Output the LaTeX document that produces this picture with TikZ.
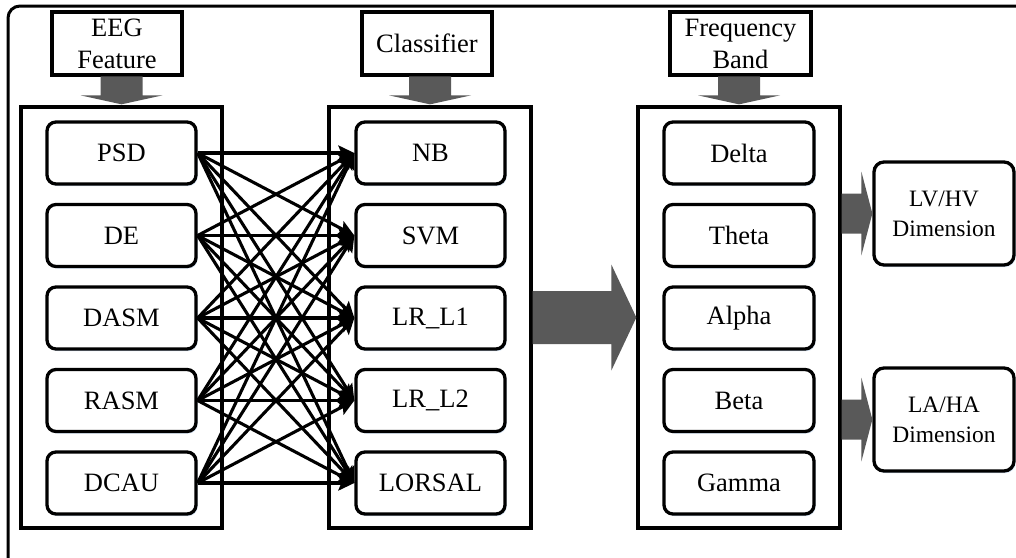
\documentclass[tikz,border=0pt]{standalone}
\usepackage{fontspec}
\setmainfont{Liberation Serif}
\usetikzlibrary{calc,arrows.meta,shadows}

\definecolor{arrowgray}{RGB}{89,89,89}
\definecolor{glow}{RGB}{210,225,242}

% wide grey arrow pointing down onto the top of a container
\newcommand\blockdown[1]{%
  \fill[arrowgray] ($(#1.north)+(-21,-29)$) -- ($(#1.north)+(21,-29)$)
    -- ($(#1.north)+(21,-10)$) -- ($(#1.north)+(41,-10)$)
    -- ($(#1.north)+(0,-1)$) -- ($(#1.north)+(-41,-10)$)
    -- ($(#1.north)+(-21,-10)$) -- cycle;}
% wide grey arrow from node #1 to node #2: shaft half width, head half width, head length
\newcommand\blockright[5]{%
  \fill[arrowgray] ($(#1.east |- #2.west)+(0,-#3)$) -- ($(#2.west)+(-#5,-#3)$)
    -- ($(#2.west)+(-#5,-#4)$) -- (#2.west) -- ($(#2.west)+(-#5,#4)$)
    -- ($(#2.west)+(-#5,#3)$) -- ($(#1.east |- #2.west)+(0,#3)$) -- cycle;}

\begin{document}
\begin{tikzpicture}[x=1pt,y=-1pt,
  txt/.style={font=\fontsize{26.5}{32}\selectfont},
  glowing/.style={drop shadow={shadow xshift=1.5pt,shadow yshift=-2pt,fill=glow,opacity=1}},
  header/.style={draw,line width=3.3pt,fill=white,txt,align=center,
    minimum height=63pt,inner sep=0pt,glowing},
  container/.style={draw,line width=3.3pt,minimum width=201pt,minimum height=421pt,
    inner sep=0pt,glowing,fill=white},
  item/.style={draw,line width=3.3pt,rounded corners=9pt,fill=white,txt,
    minimum width=149pt,minimum height=62pt,inner sep=0pt,glowing},
  result/.style={draw,line width=3.3pt,rounded corners=10pt,fill=white,align=center,
    font=\fontsize{23.5}{30}\selectfont,minimum width=140pt,minimum height=103pt,
    inner sep=0pt,glowing},
  link/.style={line width=3.1pt,-{Stealth[length=16pt,width=15pt,inset=3pt]}}]

\useasboundingbox (0,0) rectangle (1016,557);
\begin{scope}
  \clip (0,0) rectangle (1016,557);
  \draw[line width=3pt,rounded corners=12pt] (8,6) rectangle (1040,590);
\end{scope}

% column headers
\node[header,minimum width=130pt] (hfeat) at (117,43.5) {EEG\\Feature};
\node[header,minimum width=130pt] (hclass) at (427,43.5) {Classifier};
\node[header,minimum width=141pt] (hband) at (740.5,43.5) {Frequency\\Band};

% containers
\node[container] (kfeat) at (121.5,317.5) {};
\node[container,minimum width=202pt] (kclass) at (430,317.5) {};
\node[container,minimum width=202pt] (kband) at (739,317.5) {};

\blockdown{kfeat}
\blockdown{kclass}
\blockdown{kband}

% features, classifiers and frequency bands
\foreach \name [count=\i] in {PSD,DE,DASM,RASM,DCAU}
  \node[item] (f\i) at (121.5,{153+82.5*(\i-1)}) {\name};
\foreach \name [count=\i] in {NB,SVM,LR\_L1,LR\_L2,LORSAL}
  \node[item] (c\i) at (430.5,{153+82.5*(\i-1)}) {\name};
\foreach \name [count=\i] in {Delta,Theta,Alpha,Beta,Gamma}
  \node[item,minimum width=150pt] (b\i) at (739,{153+82.5*(\i-1)}) {\name};

% every feature paired with every classifier
\foreach \i in {1,...,5}
  \foreach \j in {1,...,5}
    \draw[link] (f\i.east) -- (c\j.west);

% emotion dimensions
\node[result] (lv) at (944,213.5) {LV/HV\\Dimension};
\node[result] (la) at (944,419.5) {LA/HA\\Dimension};

\blockright{kclass}{kband}{26.5}{53}{25}
\blockright{kband}{lv}{20}{42}{11}
\blockright{kband}{la}{20}{42}{11}

\end{tikzpicture}
\end{document}
